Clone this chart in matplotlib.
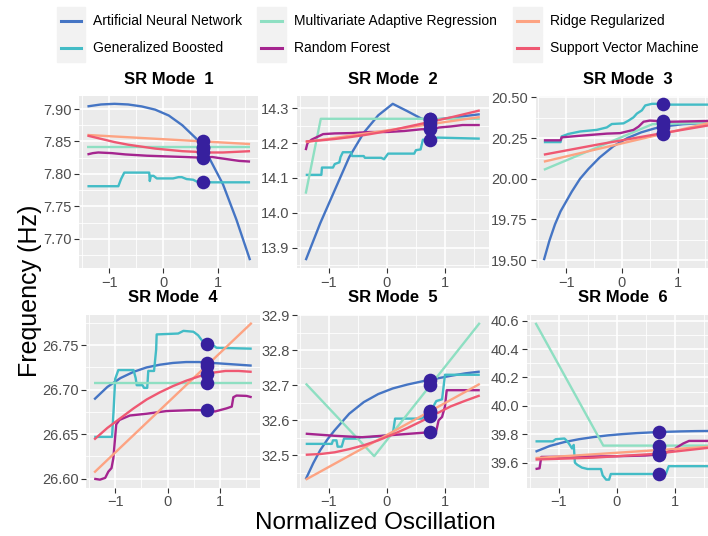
import matplotlib.pyplot as plt
from matplotlib.lines import Line2D
from matplotlib.patches import Rectangle
from matplotlib.ticker import MultipleLocator, FormatStrFormatter

plt.rcParams['font.family'] = ['Liberation Sans', 'DejaVu Sans']

MODELS = ["Artificial Neural Network", "Generalized Boosted",
          "Multivariate Adaptive Regression", "Random Forest",
          "Ridge Regularized", "Support Vector Machine"]
COLORS = ["#4575C4", "#43BCC6", "#8EDFC2", "#A5258F", "#FDA382", "#EF5872"]
POINT_COLOR = "#37209E"

# current oscillation where each model is evaluated
x_now = 0.74

grid_x = [-1.4, -1.15, -0.9, -0.65, -0.4, -0.15, 0.1, 0.35, 0.6, 0.85, 1.1, 1.35, 1.6]
line_x = [-1.4, 1.6]

# ---- SR mode 1
m1_ann = [7.904, 7.907, 7.908, 7.907, 7.904, 7.899, 7.890, 7.875, 7.855, 7.824, 7.784, 7.729, 7.667]
m1_gbm_x = [-1.4, -0.83, -0.78, -0.72, -0.26, -0.25, -0.23, -0.18, -0.12, 0.18, 0.28, 0.34, 0.43, 0.55, 0.62, 0.9, 1.6]
m1_gbm = [7.781, 7.781, 7.792, 7.802, 7.802, 7.789, 7.797, 7.797, 7.793, 7.793, 7.795, 7.795, 7.792, 7.791, 7.788, 7.787, 7.787]
m1_mars = [7.842, 7.842]
m1_rf_x = [-1.4, -1.3, -1.2, -0.95, -0.7, -0.5, -0.3, 0.05, 0.4, 0.7, 0.9, 1.15, 1.4, 1.6]
m1_rf = [7.830, 7.832, 7.833, 7.832, 7.830, 7.829, 7.828, 7.827, 7.826, 7.825, 7.826, 7.823, 7.820, 7.819]
m1_ridge = [7.860, 7.846]
m1_svm = [7.859, 7.854, 7.849, 7.845, 7.842, 7.839, 7.837, 7.835, 7.834, 7.833, 7.833, 7.834, 7.835]
m1_now = [7.840, 7.787, 7.842, 7.825, 7.850, 7.834]

# ---- SR mode 2
m2_ann = [13.864, 13.970, 14.065, 14.160, 14.230, 14.280, 14.313, 14.292, 14.270, 14.268, 14.273, 14.278, 14.283]
m2_gbm_x = [-1.4, -1.13, -1.12, -0.93, -0.9, -0.82, -0.8, -0.76, -0.62, -0.6, -0.4, -0.38, -0.1, -0.05,
            0.02, 0.47, 0.5, 0.58, 0.62, 0.8, 0.87, 1.6]
m2_gbm = [14.109, 14.109, 14.130, 14.130, 14.140, 14.145, 14.160, 14.174, 14.174, 14.163, 14.163, 14.158,
          14.158, 14.154, 14.170, 14.170, 14.180, 14.182, 14.210, 14.210, 14.216, 14.213]
m2_mars_x = [-1.4, -1.14, 1.6]
m2_mars = [14.055, 14.270, 14.270]
m2_rf_x = [-1.4, -1.37, -1.3, -1.2, -1.1, -0.9, -0.6, -0.3, 0.0, 0.3, 0.6, 0.75, 0.9, 1.1, 1.3, 1.6]
m2_rf = [14.180, 14.200, 14.210, 14.218, 14.226, 14.228, 14.229, 14.232, 14.232, 14.235, 14.240, 14.240,
         14.245, 14.248, 14.252, 14.252]
m2_ridge = [14.203, 14.275]
m2_svm = [14.205, 14.208, 14.212, 14.217, 14.223, 14.230, 14.238, 14.247, 14.256, 14.265, 14.274, 14.284, 14.294]
m2_now = [14.269, 14.210, 14.270, 14.240, 14.256, 14.263]

# ---- SR mode 3
m3_ann_x = [-1.4, -1.3, -1.2, -1.1, -1.0, -0.9, -0.75, -0.6, -0.4, -0.15, 0.1, 0.35, 0.6, 0.85, 1.1, 1.35, 1.6]
m3_ann = [19.50, 19.62, 19.72, 19.80, 19.86, 19.92, 20.00, 20.06, 20.13, 20.20, 20.25, 20.285, 20.31,
          20.325, 20.335, 20.34, 20.345]
m3_gbm_x = [-1.4, -1.1, -1.08, -0.96, -0.75, -0.45, -0.27, -0.18, 0.03, 0.12, 0.21, 0.27, 0.36, 0.42,
            0.54, 0.75, 0.81, 1.6]
m3_gbm = [20.225, 20.225, 20.26, 20.275, 20.29, 20.30, 20.315, 20.336, 20.34, 20.357, 20.377, 20.40,
          20.42, 20.45, 20.46, 20.46, 20.455, 20.455]
m3_mars_x = [-1.4, 0.55, 1.6]
m3_mars = [20.055, 20.335, 20.345]
m3_rf_x = [-1.4, -1.1, -1.08, -0.75, -0.27, -0.03, 0.21, 0.3, 0.39, 0.5, 0.87, 1.6]
m3_rf = [20.236, 20.236, 20.254, 20.264, 20.277, 20.28, 20.30, 20.32, 20.35, 20.357, 20.35, 20.355]
m3_ridge = [20.105, 20.345]
m3_svm_x = [-1.4, -0.4, 0.6, 1.6]
m3_svm = [20.148, 20.212, 20.272, 20.330]
m3_now = [20.320, 20.460, 20.340, 20.355, 20.276, 20.280]

# ---- SR mode 4
m4_ann = [26.689, 26.703, 26.713, 26.720, 26.725, 26.728, 26.730, 26.731, 26.731, 26.730, 26.729, 26.728, 26.727]
m4_gbm_x = [-1.4, -1.06, -1.03, -1.0, -0.94, -0.65, -0.61, -0.59, -0.48, -0.45, -0.39, -0.37, -0.26,
            -0.22, -0.21, 0.2, 0.3, 0.49, 0.58, 0.68, 0.84, 0.93, 1.6]
m4_gbm = [26.647, 26.647, 26.677, 26.712, 26.722, 26.722, 26.713, 26.705, 26.705, 26.702, 26.702, 26.721,
          26.721, 26.745, 26.762, 26.763, 26.766, 26.765, 26.761, 26.753, 26.751, 26.747, 26.746]
m4_mars = [26.708, 26.708]
m4_rf_x = [-1.4, -1.29, -1.19, -1.13, -1.07, -1.035, -0.98, -0.92, -0.72, -0.4, -0.02, 0.43, 0.74, 0.9,
           1.12, 1.22, 1.25, 1.31, 1.5, 1.6]
m4_rf = [26.600, 26.599, 26.601, 26.608, 26.612, 26.623, 26.661, 26.666, 26.671, 26.673, 26.676, 26.677,
         26.677, 26.6755, 26.679, 26.681, 26.6915, 26.6934, 26.693, 26.6915]
m4_ridge = [26.607, 26.775]
m4_svm = [26.644, 26.657, 26.668, 26.679, 26.689, 26.697, 26.704, 26.710, 26.715, 26.719, 26.721, 26.721, 26.720]
m4_now = [26.730, 26.751, 26.708, 26.677, 26.727, 26.718]

# ---- SR mode 5
m5_ann_x = [-1.4, -1.27, -1.15, -1.02, -0.9, -0.65, -0.4, -0.15, 0.1, 0.35, 0.6, 0.85, 1.1, 1.35, 1.6]
m5_ann = [32.432, 32.478, 32.515, 32.547, 32.572, 32.619, 32.652, 32.675, 32.691, 32.702, 32.711, 32.719,
          32.727, 32.734, 32.739]
m5_gbm_x = [-1.4, -0.95, -0.93, -0.87, -0.85, -0.78, -0.74, -0.5, -0.45, -0.3, -0.1, 0.1, 0.14, 0.6,
            0.64, 0.7, 0.8, 0.85, 0.95, 1.0, 1.6]
m5_gbm = [32.533, 32.533, 32.543, 32.543, 32.525, 32.525, 32.548, 32.548, 32.552, 32.552, 32.555, 32.560,
          32.605, 32.605, 32.610, 32.625, 32.640, 32.655, 32.660, 32.730, 32.730]
m5_mars_x = [-1.4, -0.22, 1.6]
m5_mars = [32.705, 32.498, 32.878]
m5_rf_x = [-1.4, -0.9, -0.43, 0.0, 0.72, 0.85, 0.89, 0.95, 1.0, 1.03, 1.6]
m5_rf = [32.562, 32.556, 32.552, 32.557, 32.566, 32.570, 32.600, 32.610, 32.640, 32.686, 32.686]
m5_ridge = [32.431, 32.704]
m5_svm = [32.502, 32.504, 32.509, 32.518, 32.529, 32.543, 32.560, 32.578, 32.598, 32.619, 32.640, 32.656, 32.671]
m5_now = [32.716, 32.625, 32.700, 32.568, 32.626, 32.612]

# ---- SR mode 6
m6_ann = [39.677, 39.718, 39.745, 39.765, 39.780, 39.792, 39.801, 39.808, 39.813, 39.817, 39.820, 39.822, 39.823]
m6_gbm_x = [-1.4, -1.1, -1.05, -0.9, -0.85, -0.8, -0.77, -0.74, -0.72, -0.68, -0.6, -0.5, -0.27, -0.24,
            -0.18, -0.13, -0.1, 0.85, 0.9, 1.6]
m6_gbm = [39.750, 39.750, 39.765, 39.770, 39.750, 39.720, 39.700, 39.725, 39.600, 39.585, 39.565, 39.555,
          39.555, 39.510, 39.480, 39.480, 39.520, 39.520, 39.575, 39.575]
m6_mars_x = [-1.4, -0.23, 1.6]
m6_mars = [40.585, 39.720, 39.720]
m6_rf_x = [-1.4, -1.33, -1.3, 0.0, 0.5, 0.8, 0.9, 1.0, 1.05, 1.15, 1.25, 1.6]
m6_rf = [39.555, 39.560, 39.640, 39.645, 39.650, 39.660, 39.680, 39.695, 39.710, 39.735, 39.753, 39.753]
m6_ridge = [39.632, 39.712]
m6_svm_x = [-1.4, -0.4, 0.6, 1.6]
m6_svm = [39.622, 39.635, 39.660, 39.705]
m6_now = [39.818, 39.520, 39.720, 39.660, 39.668, 39.655]

modes = [
    [(grid_x, m1_ann), (m1_gbm_x, m1_gbm), (line_x, m1_mars), (m1_rf_x, m1_rf), (line_x, m1_ridge), (grid_x, m1_svm)],
    [(grid_x, m2_ann), (m2_gbm_x, m2_gbm), (m2_mars_x, m2_mars), (m2_rf_x, m2_rf), (line_x, m2_ridge), (grid_x, m2_svm)],
    [(m3_ann_x, m3_ann), (m3_gbm_x, m3_gbm), (m3_mars_x, m3_mars), (m3_rf_x, m3_rf), (line_x, m3_ridge), (m3_svm_x, m3_svm)],
    [(grid_x, m4_ann), (m4_gbm_x, m4_gbm), (line_x, m4_mars), (m4_rf_x, m4_rf), (line_x, m4_ridge), (grid_x, m4_svm)],
    [(m5_ann_x, m5_ann), (m5_gbm_x, m5_gbm), (m5_mars_x, m5_mars), (m5_rf_x, m5_rf), (line_x, m5_ridge), (grid_x, m5_svm)],
    [(grid_x, m6_ann), (m6_gbm_x, m6_gbm), (m6_mars_x, m6_mars), (m6_rf_x, m6_rf), (line_x, m6_ridge), (m6_svm_x, m6_svm)],
]
now_values = [m1_now, m2_now, m3_now, m4_now, m5_now, m6_now]
y_steps = [0.05, 0.1, 0.25, 0.05, 0.1, 0.2]
y_formats = ['%.2f', '%.1f', '%.2f', '%.2f', '%.1f', '%.1f']

# panel boxes in pixels: left, right, top, bottom
W, H = 708, 536
boxes = [(79.3, 258.2, 96, 268), (297, 488.5, 96, 268), (535.5, 719.3, 96, 268),
         (86.3, 259.6, 315, 487.5), (297, 488.5, 315, 487.5), (526.8, 718, 315, 487.5)]

fig = plt.figure(figsize=(W / 100, H / 100), dpi=100)

for i, (curves, now, step, fmt, (l, r, t, b)) in enumerate(zip(modes, now_values, y_steps, y_formats, boxes)):
    ax = fig.add_axes([l / W, 1 - b / H, (r - l) / W, (b - t) / H])
    ax.set_facecolor('#EBEBEB')
    for s in ax.spines.values():
        s.set_visible(False)

    for (xs, ys), c in zip(curves, COLORS):
        ax.plot(xs, ys, color=c, lw=1.7, solid_capstyle='butt', zorder=3)
    ax.plot([x_now] * len(now), now, 'o', color=POINT_COLOR, ms=9.8, mec='none', zorder=4)

    ax.margins(x=0.05, y=0.05)
    ax.xaxis.set_major_locator(MultipleLocator(1))
    ax.xaxis.set_minor_locator(MultipleLocator(0.5))
    ax.yaxis.set_major_locator(MultipleLocator(step))
    ax.yaxis.set_minor_locator(MultipleLocator(step / 2))
    ax.yaxis.set_major_formatter(FormatStrFormatter(fmt))
    ax.grid(which='major', color='white', lw=1.2, zorder=0)
    ax.grid(which='minor', color='white', lw=0.6, zorder=0)
    ax.set_axisbelow(True)
    ax.tick_params(which='major', direction='out', length=3.5, width=0.8, color='#333333',
                   labelcolor='#4D4D4D', labelsize=10.5, pad=2)
    ax.tick_params(which='minor', length=0)

    fig.text(((l + r) / 2) / W, 1 - (t - 17) / H, f"SR Mode  {i + 1}",
             ha='center', va='center', fontsize=12, fontweight='bold')

fig.text(30 / W, 1 - 291 / H, "Frequency (Hz)", rotation=90, ha='center', va='center', fontsize=18)
fig.text(375 / W, 1 - 523 / H, "Normalized Oscillation", ha='center', va='center', fontsize=17.5)

# legend: three columns of two keys on grey key backgrounds
key_left = [56.5, 257, 513]
row_y = [21, 48]
for k, (name, c) in enumerate(zip(MODELS, COLORS)):
    col, row = k // 2, k % 2
    kx = key_left[col]
    fig.patches.append(Rectangle((kx / W, 1 - (row_y[row] + 13.5) / H), 28.5 / W, 27 / H,
                                 transform=fig.transFigure, color='#F2F2F2', zorder=0))
    fig.lines.append(Line2D([(kx + 4) / W, (kx + 24.5) / W], [1 - row_y[row] / H] * 2,
                            transform=fig.transFigure, color=c, lw=2.2))
    fig.text((kx + 36.5) / W, 1 - row_y[row] / H, name, ha='left', va='center', fontsize=10)

fig.savefig("out.png", dpi=100)
